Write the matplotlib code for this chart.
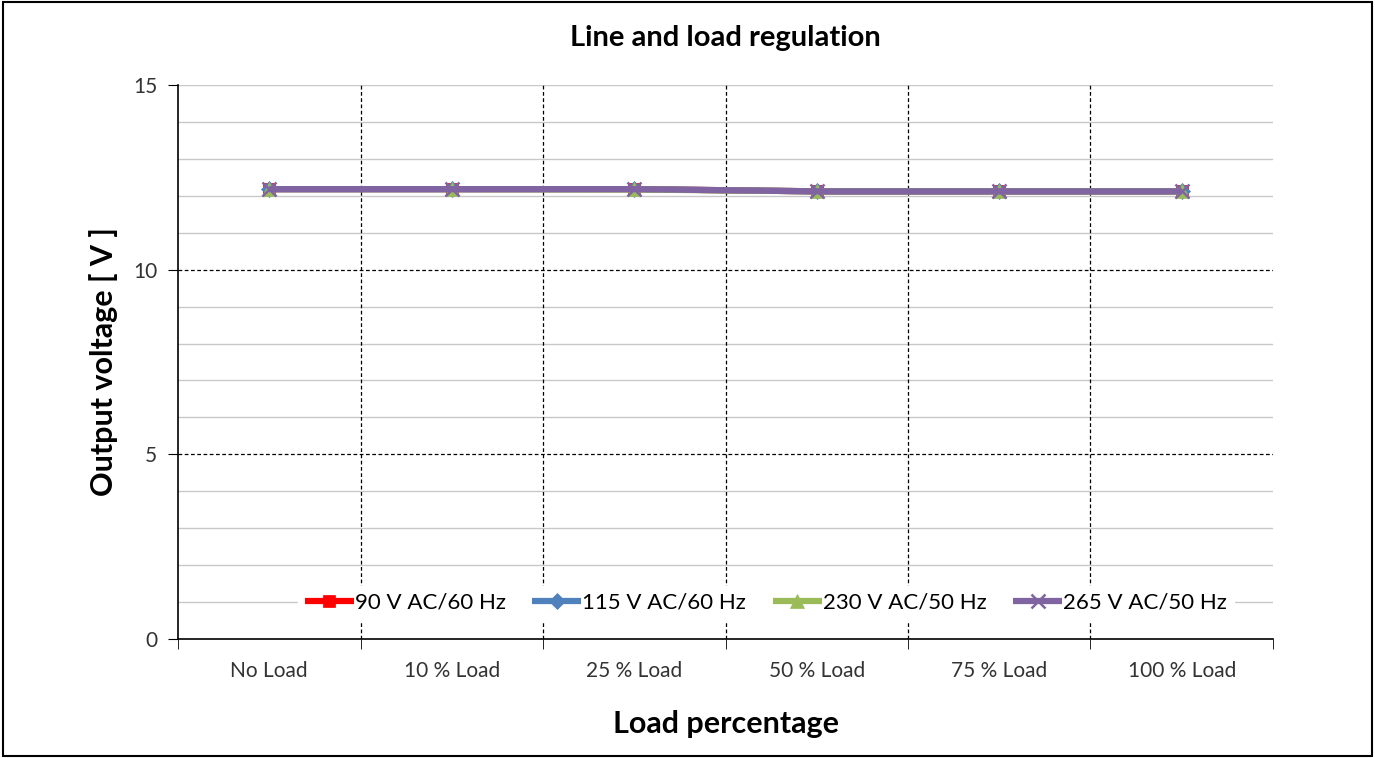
import matplotlib
matplotlib.use("Agg")
import matplotlib.pyplot as plt
import numpy as np
from matplotlib.ticker import MultipleLocator, FixedLocator

plt.rcParams['font.family'] = ['Lato', 'DejaVu Sans']

categories = ["No Load", "10 % Load", "25 % Load", "50 % Load", "75 % Load", "100 % Load"]
v90 = [12.18, 12.18, 12.18, 12.12, 12.12, 12.12]
v115 = [12.18, 12.18, 12.18, 12.12, 12.12, 12.12]
v230 = [12.18, 12.18, 12.17, 12.12, 12.12, 12.12]
v265 = [12.18, 12.18, 12.18, 12.12, 12.12, 12.12]
series_names = ["90 V AC/60 Hz", "115 V AC/60 Hz", "230 V AC/50 Hz", "265 V AC/50 Hz"]

fig = plt.figure(figsize=(13.75, 7.58), dpi=100)
ax = fig.add_axes([0.1295, 0.157, 0.7963, 0.7309])

x = np.arange(len(categories))
styles = [
    (v90, "#FF0000", "s", 9),
    (v115, "#4F81BD", "D", 8),
    (v230, "#9BBB59", "^", 10),
    (v265, "#8064A2", "x", 10),
]
for (vals, col, mk, ms), name in zip(styles, series_names):
    ax.plot(x, vals, color=col, lw=4.5, marker=mk, markersize=ms,
            markeredgewidth=1.8 if mk == "x" else 0.5, markeredgecolor=col,
            label=name, solid_capstyle="butt")

ax.set_xlim(-0.5, len(categories) - 0.5)
ax.set_ylim(0, 15)
ax.yaxis.set_major_locator(MultipleLocator(5))
ax.yaxis.set_minor_locator(MultipleLocator(1))
ax.xaxis.set_major_locator(FixedLocator(x))
ax.xaxis.set_minor_locator(FixedLocator(np.arange(-0.5, len(categories), 1.0)))
ax.set_xticklabels(categories, fontsize=15, color="#333333")
ax.tick_params(axis="x", which="major", length=0, pad=16)
ax.tick_params(axis="x", which="minor", length=7, direction="out", color="black")
ax.tick_params(axis="y", which="major", length=7, direction="out", labelsize=15, labelcolor="#333333", pad=8)
ax.tick_params(axis="y", which="minor", length=0)

ax.grid(False)
for yv in range(1, 16):
    if yv % 5 == 0 and yv < 15:
        ax.axhline(yv, color="black", lw=0.9, ls=(0, (3, 2)), zorder=0.5)
    else:
        ax.axhline(yv, color="#C8C8C8", lw=1.0, zorder=0.4)
for xv in np.arange(0.5, len(categories) - 1, 1.0):
    ax.axvline(xv, color="black", lw=0.9, ls=(0, (3, 2)), zorder=0.5)

for s in ["top", "right"]:
    ax.spines[s].set_visible(False)
ax.spines["left"].set_linewidth(1.2)
ax.spines["bottom"].set_linewidth(1.2)

ax.set_title("Line and load regulation", fontsize=21, fontweight="bold", pad=28)
ax.set_xlabel("Load percentage", fontsize=22, fontweight="bold", labelpad=21)
ax.set_ylabel("Output voltage [ V ]", fontsize=22, fontweight="bold", labelpad=11)

leg = ax.legend(loc="center", bbox_to_anchor=(0.537, 0.065), ncol=4, frameon=True,
                fontsize=16, handlelength=2.2, handletextpad=0.05, columnspacing=1.2,
                borderpad=0.3, fancybox=False)
leg.get_frame().set_edgecolor("white")
leg.get_frame().set_facecolor("white")
leg.get_frame().set_alpha(1)

fig.patches.append(plt.Rectangle((0.002, 0.002), 0.996, 0.996, transform=fig.transFigure,
                                 fill=False, edgecolor="black", lw=1.5))

fig.savefig("out.png", dpi=100)
